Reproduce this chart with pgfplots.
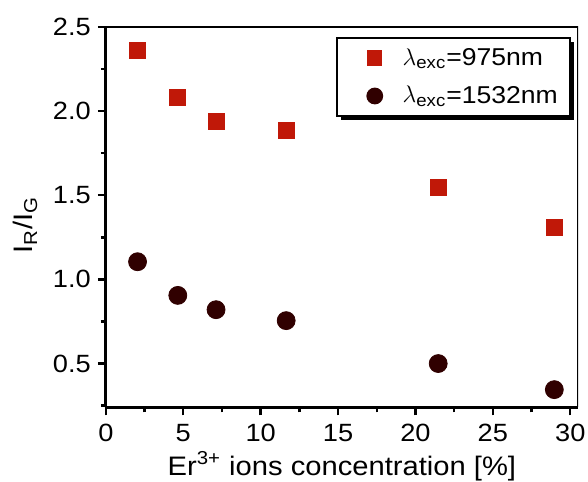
\documentclass[border=0pt]{standalone}
\usepackage{fontspec}
\setmainfont{Liberation Sans}[FakeStretch=1.09]
\usepackage{pgfplots}
\pgfplotsset{compat=1.18}
\usetikzlibrary{shadows}
\definecolor{sqred}{RGB}{192,24,8}
\definecolor{circbrown}{RGB}{48,0,0}
\begin{document}
\begin{tikzpicture}
\begin{axis}[
  scale only axis,
  width=236.5pt, height=190.5pt,
  xmin=0, xmax=30.5, ymin=0.24, ymax=2.5,
  xtick={0,5,...,30}, ytick={0.5,1.0,1.5,2.0,2.5},
  minor xtick={2.5,7.5,...,27.5}, minor ytick={0.25,0.75,...,2.25},
  yticklabel style={/pgf/number format/fixed, /pgf/number format/fixed zerofill, /pgf/number format/precision=1},
  /pgf/number format/assume math mode=true,
  tick align=outside, axis x line*=bottom, axis y line*=left,
  major tick length=4pt, minor tick length=2.5pt,
  every tick/.style={black, line width=1.2pt},
  axis line style={line width=1.5pt},
  tick label style={font=\fontsize{12.5}{14}\selectfont},
  xticklabel style={yshift=-1pt},
  label style={font=\fontsize{13.4}{15}\selectfont},
  xlabel={Er\textsuperscript{3+} ions concentration [\%]},
  ylabel={I\textsubscript{R}/I\textsubscript{G}},
  xlabel style={yshift=2pt},
  ylabel style={yshift=1pt, xshift=-4pt},
  legend style={at={(0.985,0.974)}, anchor=north east, draw=black, line width=1.2pt,
    font=\fontsize{12.2}{14}\selectfont, fill=white,
    drop shadow={shadow xshift=2pt, shadow yshift=-2pt, fill=black, opacity=1},
    inner xsep=4pt, inner ysep=3pt, row sep=5pt},
  legend cell align=left,
  legend image code/.code={\path (0cm,0cm) (0.9cm,0cm); \draw[#1, every mark/.append style={scale=0.8}] plot coordinates {(0.5cm,0cm)};},
]
\draw[line width=1.5pt] (rel axis cs:0,1) -- (rel axis cs:1,1) -- (rel axis cs:1,0);
\addplot[only marks, mark=square*, mark size=4pt, color=sqred] coordinates {
  (2.05,2.36) (4.65,2.08) (7.12,1.94) (11.65,1.888) (21.47,1.545) (28.97,1.31)
};
\addlegendentry{$\lambda$\textsubscript{exc}=975nm}
\addplot[only marks, mark=*, mark size=4.5pt, color=circbrown] coordinates {
  (2.05,1.105) (4.65,0.905) (7.12,0.82) (11.65,0.755) (21.47,0.50) (28.97,0.345)
};
\addlegendentry{$\lambda$\textsubscript{exc}=1532nm}
\end{axis}
\pgfresetboundingbox
\path (current axis.south west) ++(-53pt,-37pt) coordinate (bbA);
\path (current axis.north east) ++(5pt,13.5pt) coordinate (bbB);
\path[use as bounding box] (bbA) rectangle (bbB);
\end{tikzpicture}
\end{document}
